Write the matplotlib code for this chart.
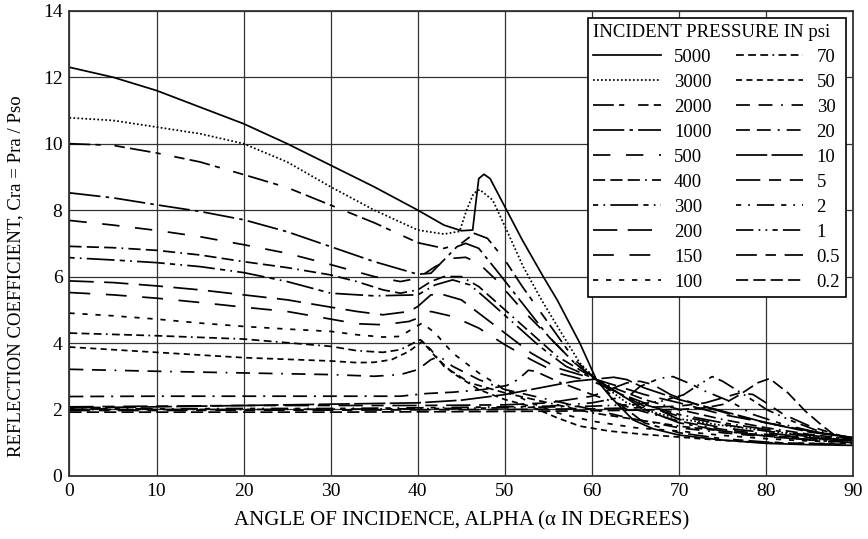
import matplotlib.pyplot as plt

# угол падения (град) и коэффициент отражения для каждой кривой
a_5000 = [0, 5, 10, 15, 20, 25, 30, 35, 40, 43, 45, 46.3, 46.7, 47.0, 47.6, 48.3, 50, 52, 54.4, 56, 58.6, 60.5, 62.1, 64.7, 67, 70, 75, 80, 85, 90]
c_5000 = [12.3, 12.0, 11.6, 11.1, 10.6, 10.0, 9.35, 8.7, 8.0, 7.55, 7.38, 7.4, 8.3, 8.95, 9.08, 8.95, 8.1, 7.1, 6.0, 5.3, 4.0, 2.9, 2.39, 1.69, 1.42, 1.23, 1.08, 0.98, 0.94, 0.92]

a_3000 = [0, 5, 10, 15, 20, 25, 30, 35, 40, 43, 44.8, 45.6, 46.4, 47.1, 48.6, 50.2, 52.1, 54.2, 56.5, 58.6, 60.9, 64, 67, 70, 75, 80, 85, 90]
c_3000 = [10.78, 10.7, 10.5, 10.3, 10.0, 9.45, 8.7, 8.0, 7.4, 7.28, 7.36, 8.0, 8.5, 8.62, 8.3, 7.4, 6.3, 5.3, 4.3, 3.4, 2.8, 2.2, 1.92, 1.72, 1.52, 1.36, 1.2, 1.06]

a_2000 = [0, 5, 10, 15, 20, 25, 30, 35, 40, 43, 45, 46.5, 48, 50, 52, 55, 58, 60.5, 63, 66, 70, 75, 80, 85, 90]
c_2000 = [10.0, 9.95, 9.72, 9.45, 9.07, 8.68, 8.15, 7.62, 7.02, 6.85, 7.0, 7.3, 7.15, 6.5, 5.7, 4.6, 3.5, 2.9, 2.2, 1.6, 1.3, 1.12, 1.02, 0.97, 0.95]

a_1000 = [0, 5, 10, 15, 20, 25, 30, 35, 40, 41.5, 43, 44.5, 45.5, 47, 49, 52, 55, 58, 60.5, 63, 66, 70, 75, 80, 85, 90]
c_1000 = [8.52, 8.37, 8.16, 7.96, 7.71, 7.35, 6.9, 6.45, 6.07, 6.1, 6.5, 6.9, 7.0, 6.85, 6.2, 5.2, 4.2, 3.4, 2.9, 2.5, 2.0, 1.6, 1.35, 1.2, 1.08, 1.0]

a_500 = [0, 5, 10, 15, 20, 25, 30, 35, 38, 40, 42, 44, 45.5, 47, 49, 52, 55, 58, 60.5, 63, 66, 70, 75, 80, 85, 90]
c_500 = [7.69, 7.55, 7.39, 7.2, 6.96, 6.7, 6.36, 6.0, 5.85, 5.95, 6.3, 6.55, 6.58, 6.4, 5.9, 5.0, 4.2, 3.4, 2.9, 2.5, 2.1, 1.8, 1.55, 1.35, 1.18, 1.05]

a_400 = [0, 5, 10, 15, 20, 25, 30, 33, 36, 38, 40, 41.5, 43, 45, 47, 50, 53, 56, 60.5, 63, 66, 70, 75, 80, 85, 90]
c_400 = [6.91, 6.87, 6.79, 6.65, 6.45, 6.27, 6.05, 5.85, 5.6, 5.5, 5.6, 5.85, 6.0, 6.0, 5.7, 5.0, 4.3, 3.6, 2.9, 2.6, 2.3, 2.0, 1.7, 1.45, 1.25, 1.1]

a_300 = [0, 5, 10, 15, 20, 25, 30, 35, 40, 42, 44, 46, 48, 51, 54, 57, 60.5, 63, 66, 70, 75, 80, 85, 90]
c_300 = [6.57, 6.5, 6.42, 6.3, 6.12, 5.85, 5.5, 5.42, 5.45, 5.75, 5.9, 5.75, 5.3, 4.6, 3.9, 3.3, 2.9, 2.5, 2.15, 1.85, 1.6, 1.4, 1.22, 1.1]

a_200 = [0, 5, 10, 15, 20, 25, 30, 33, 36, 39, 40, 41.5, 43, 45, 47, 50, 53, 56, 60.5, 63, 66, 70, 75, 80, 85, 90]
c_200 = [5.87, 5.82, 5.72, 5.6, 5.45, 5.3, 5.08, 4.95, 4.85, 4.95, 5.1, 5.45, 5.45, 5.3, 4.9, 4.3, 3.7, 3.25, 2.9, 2.7, 2.45, 2.2, 1.85, 1.6, 1.35, 1.15]

a_150 = [0, 5, 10, 15, 20, 25, 30, 33, 36, 39, 40, 41.5, 44, 47, 50, 53, 56, 60.5, 63, 66, 70, 75, 80, 85, 90]
c_150 = [5.52, 5.45, 5.35, 5.22, 5.08, 4.95, 4.72, 4.58, 4.55, 4.65, 4.75, 4.95, 4.8, 4.45, 3.95, 3.5, 3.1, 2.8, 2.5, 2.2, 1.7, 1.45, 1.3, 1.15, 1.05]

a_100 = [0, 5, 10, 15, 20, 25, 30, 33, 36, 38, 39.5, 40.5, 42, 44, 47, 50, 53, 56, 60, 65, 70, 75, 80, 85, 90]
c_100 = [4.9, 4.82, 4.72, 4.6, 4.5, 4.42, 4.35, 4.25, 4.18, 4.2, 4.45, 4.6, 4.3, 3.7, 3.1, 2.6, 2.2, 1.9, 1.65, 1.45, 1.35, 1.22, 1.12, 1.05, 1.0]

a_70 = [0, 10, 20, 30, 33, 36, 38, 39.5, 40.3, 41.5, 43, 46, 50, 55, 60, 65, 70, 75, 80, 85, 90]
c_70 = [4.3, 4.22, 4.12, 3.9, 3.77, 3.72, 3.8, 4.0, 4.1, 3.8, 3.3, 2.8, 2.5, 2.2, 1.9, 1.7, 1.5, 1.35, 1.22, 1.12, 1.05]

a_50 = [0, 10, 20, 30, 33, 35, 37, 39, 40.5, 42, 44, 47, 50, 53, 56, 58.6, 62, 66, 70, 75, 80, 85, 90]
c_50 = [3.88, 3.72, 3.56, 3.46, 3.41, 3.42, 3.5, 3.75, 4.05, 3.6, 3.1, 2.6, 2.3, 2.09, 1.75, 1.5, 1.35, 1.25, 1.17, 1.07, 1.0, 0.98, 0.97]

a_30 = [0, 10, 20, 30, 35, 38, 40, 41.5, 42.5, 44, 47, 50, 55, 60, 65, 70, 75, 80, 85, 90]
c_30 = [3.21, 3.15, 3.1, 3.05, 3.0, 3.05, 3.2, 3.5, 3.6, 3.3, 2.9, 2.6, 2.3, 2.0, 1.7, 1.45, 1.3, 1.18, 1.1, 1.05]

a_20 = [0, 10, 20, 30, 38, 41, 44, 47.5, 50.2, 51.5, 52.7, 53.5, 56, 60, 65, 70, 75, 80, 85, 90]
c_20 = [2.39, 2.4, 2.4, 2.4, 2.4, 2.48, 2.52, 2.6, 2.72, 2.9, 3.18, 3.15, 2.85, 2.45, 2.0, 1.65, 1.4, 1.25, 1.15, 1.08]

a_10 = [0, 10, 20, 30, 40, 45, 50, 55, 58, 61, 62.5, 64, 66, 70, 75, 80, 85, 90]
c_10 = [2.05, 2.08, 2.12, 2.16, 2.2, 2.28, 2.45, 2.7, 2.85, 2.93, 2.97, 2.9, 2.65, 2.3, 1.95, 1.6, 1.32, 1.15]

a_5 = [0, 10, 20, 30, 40, 50, 55, 60, 62, 64, 65.5, 67, 69, 72, 76, 80, 85, 90]
c_5 = [2.08, 2.1, 2.12, 2.12, 2.12, 2.14, 2.2, 2.4, 2.6, 2.8, 2.85, 2.75, 2.45, 2.15, 1.85, 1.6, 1.35, 1.15]

a_2 = [0, 10, 20, 30, 40, 50, 55, 60, 63, 64.4, 65.5, 67.8, 69.3, 71.6, 73, 75.9, 78.5, 82, 86, 90]
c_2 = [2.02, 2.02, 2.03, 2.03, 2.05, 2.08, 2.1, 2.2, 2.35, 2.44, 2.69, 2.94, 2.99, 2.74, 2.55, 2.24, 1.85, 1.55, 1.3, 1.12]

a_1 = [0, 10, 20, 30, 40, 50, 60, 65, 68, 70.5, 72, 73.8, 75, 77.8, 80.1, 83, 86, 90]
c_1 = [2.0, 2.0, 2.0, 2.01, 2.02, 2.05, 2.1, 2.15, 2.25, 2.44, 2.7, 2.99, 2.85, 2.39, 1.99, 1.65, 1.35, 1.12]

a_05 = [0, 10, 20, 30, 40, 50, 60, 65, 70, 73, 75, 77, 78.5, 80, 82, 85, 88, 90]
c_05 = [1.97, 1.97, 1.98, 1.98, 1.99, 2.0, 2.02, 2.05, 2.1, 2.2, 2.35, 2.5, 2.45, 2.2, 1.85, 1.5, 1.25, 1.12]

a_02 = [0, 10, 20, 30, 40, 50, 60, 65, 70, 73, 75, 77, 79, 80.4, 82.5, 84.5, 86.5, 88, 90]
c_02 = [1.92, 1.92, 1.92, 1.92, 1.93, 1.94, 1.96, 1.98, 2.0, 2.05, 2.15, 2.45, 2.8, 2.93, 2.5, 1.95, 1.5, 1.2, 1.08]

labels = ['5000', '3000', '2000', '1000', '500', '400', '300', '200', '150', '100',
          '70', '50', '30', '20', '10', '5', '2', '1', '0.5', '0.2']
curves = [(a_5000, c_5000), (a_3000, c_3000), (a_2000, c_2000), (a_1000, c_1000),
          (a_500, c_500), (a_400, c_400), (a_300, c_300), (a_200, c_200),
          (a_150, c_150), (a_100, c_100), (a_70, c_70), (a_50, c_50),
          (a_30, c_30), (a_20, c_20), (a_10, c_10), (a_5, c_5),
          (a_2, c_2), (a_1, c_1), (a_05, c_05), (a_02, c_02)]
# штрихи как в легенде оригинала
styles = ['-', (0, (1, 1.3)), (0, (12, 3, 3, 8, 6, 3)), (0, (18, 3, 2, 3)),
          (0, (10, 9)), (0, (7, 3, 7, 3, 7, 3, 1, 3)), (0, (3, 3, 1, 3, 16, 3)), (0, (14, 6)),
          (0, (12, 9)), (0, (3, 4.5)),
          (0, (4.5, 2.5, 4.5, 2.5, 4.5, 2.5, 1, 2.5)), (0, (3.5, 2.5)), (0, (8, 5, 8, 5, 1, 5)),
          (0, (8, 4, 8, 4, 1.2, 4)), (0, (18, 2.5)), (0, (14, 5, 7, 5)),
          (0, (3, 4, 1, 4, 10, 4)), (0, (10, 3, 1, 3, 1, 3, 3, 3)), (0, (12, 5, 6, 5)), (0, (7, 3))]

plt.rcParams['font.family'] = ['Liberation Serif', 'DejaVu Serif']

fig = plt.figure(figsize=(8.68, 5.39), dpi=100)
ax = fig.add_axes([0.08, 0.117, 0.903, 0.863])

for (a, c), lab, ls in zip(curves, labels, styles):
    ax.plot(a, c, color='black', lw=1.25, linestyle=ls, label=lab)

ax.set_xlim(0, 90)
ax.set_ylim(0, 14)
ax.set_xticks(range(0, 91, 10))
ax.set_yticks(range(0, 15, 2))
ax.grid(True, color='0.2', lw=0.9)
ax.tick_params(length=0, labelsize=14, pad=5)
for s in ax.spines.values():
    s.set_linewidth(1.3)
    s.set_color('0.2')

ax.set_xlabel('ANGLE OF INCIDENCE, ALPHA (α IN DEGREES)', fontsize=15, labelpad=8)
ax.set_ylabel('REFLECTION COEFFICIENT, Cra = Pra / Pso', fontsize=13.5)
ax.yaxis.set_label_coords(-0.058, 0.43)

leg = ax.legend(loc='upper right', ncol=2, title='INCIDENT PRESSURE IN psi',
                fontsize=13.5, title_fontsize=13.5, handlelength=3.6,
                handletextpad=0.7, columnspacing=1.3, labelspacing=0.42,
                fancybox=False, framealpha=1, edgecolor='black',
                borderpad=0.3, borderaxespad=0.4)
leg.get_frame().set_linewidth(1.2)
leg._legend_box.align = 'left'

fig.savefig('out.png', dpi=100)
